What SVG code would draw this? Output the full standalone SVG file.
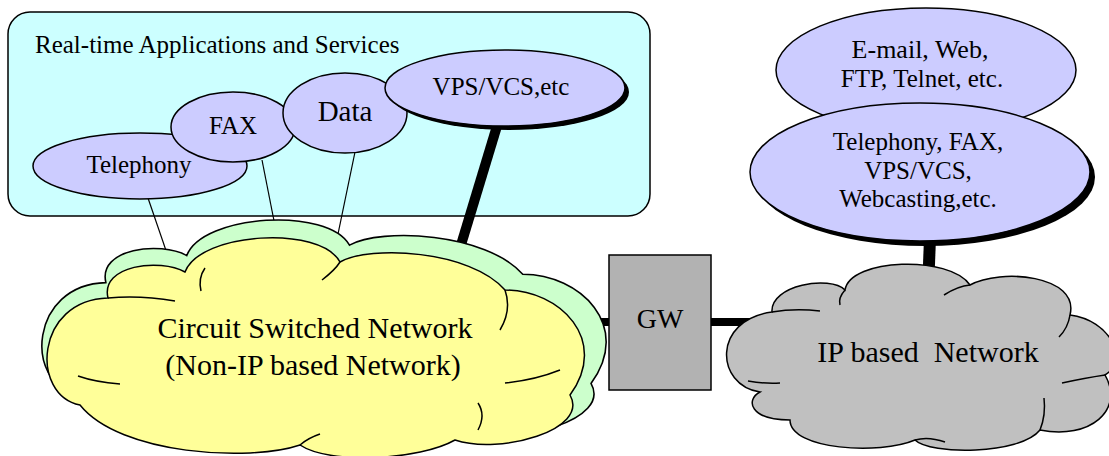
<svg xmlns="http://www.w3.org/2000/svg" width="1109" height="456" viewBox="0 0 1109 456">
  <style>
    .lbl { font-family: "Liberation Serif", "Times New Roman", serif; fill: #000; text-anchor: middle; }
    .svc { fill: #ccccff; stroke: #000; stroke-width: 1.5; }
    .shadow { fill: #000; }
    .inner { fill: none; stroke: #000; stroke-width: 1.5; }
    .thin { stroke: #000; stroke-width: 1.2; fill: none; }
    .thick { stroke: #000; fill: none; }
  </style>
  <defs>
    <path id="cs-cloud" d="M 80,405 C 30,395 35,300 108,298 C 100,265 160,258 185,272 C 200,232 320,225 340,262 C 370,245 470,250 505,290 C 560,290 610,340 570,395 C 590,430 500,455 455,440 C 420,460 330,465 300,445 C 250,462 120,455 80,405 Z"/>
  </defs>

  <!-- application panel -->
  <g id="panel">
    <rect x="8" y="12" width="642" height="204" rx="22" ry="22" fill="#ccffff" stroke="#000" stroke-width="1.5"/>
    <text class="lbl" x="35" y="53" font-size="25" style="text-anchor:start">Real-time Applications and Services</text>
  </g>

  <!-- connectors -->
  <g id="connectors">
    <line class="thin" x1="148" y1="198" x2="172" y2="268"/>
    <line class="thin" x1="262" y1="160" x2="277" y2="236"/>
    <line class="thin" x1="355" y1="152" x2="338" y2="234"/>
    <line class="thick" x1="497" y1="126" x2="454" y2="268" stroke-width="10"/>
    <line class="thick" x1="560" y1="322" x2="610" y2="322" stroke-width="8"/>
    <line class="thick" x1="710" y1="322" x2="760" y2="322" stroke-width="8"/>
    <line class="thick" x1="930" y1="238" x2="928" y2="290" stroke-width="12"/>
  </g>

  <!-- application services -->
  <g id="telephony">
    <ellipse class="svc" cx="140" cy="166" rx="107" ry="33"/>
    <text class="lbl" x="139" y="173" font-size="25">Telephony</text>
  </g>
  <g id="fax">
    <ellipse class="svc" cx="233" cy="127" rx="62" ry="35"/>
    <text class="lbl" x="233" y="134" font-size="25">FAX</text>
  </g>
  <g id="data">
    <ellipse class="svc" cx="345" cy="113" rx="62" ry="40"/>
    <text class="lbl" x="345" y="121" font-size="29">Data</text>
  </g>
  <g id="vps">
    <ellipse class="shadow" cx="509" cy="92" rx="120" ry="38"/>
    <ellipse class="svc" cx="505" cy="88" rx="120" ry="38"/>
    <text class="lbl" x="501" y="95" font-size="25">VPS/VCS,etc</text>
  </g>

  <!-- circuit switched network -->
  <g id="circuit-network">
    <use href="#cs-cloud" transform="translate(318,345) scale(1.05,1.04) translate(-310,-358)" fill="#ccffcc" stroke="#000" stroke-width="1.5"/>
    <use href="#cs-cloud" fill="#ffff99" stroke="#000" stroke-width="1.5"/>
    <path class="inner" d="M 108,298 Q 140,295 175,301"/>
    <path class="inner" d="M 205,268 Q 198,278 201,291"/>
    <path class="inner" d="M 340,262 Q 335,270 322,280"/>
    <path class="inner" d="M 505,290 Q 512,310 500,330"/>
    <path class="inner" d="M 78,376 Q 95,382 120,384"/>
    <path class="inner" d="M 560,370 Q 535,380 505,383"/>
    <path class="inner" d="M 478,403 Q 486,415 478,430"/>
    <path class="inner" d="M 300,445 Q 308,438 320,434"/>
    <text class="lbl" x="315" y="338" font-size="30">Circuit Switched Network</text>
    <text class="lbl" x="313" y="375" font-size="30">(Non-IP based Network)</text>
  </g>

  <!-- gateway -->
  <g id="gateway">
    <rect x="609" y="255" width="102" height="135" fill="#b2b2b2" stroke="#000" stroke-width="1.5"/>
    <text class="lbl" x="660" y="328" font-size="28">GW</text>
  </g>

  <!-- IP network -->
  <g id="ip-network">
    <path d="M 760,392 C 715,385 712,320 772,312 C 770,285 830,275 845,290 C 850,258 950,255 970,285 C 1000,268 1080,275 1070,315 C 1110,320 1130,360 1105,375 C 1125,410 1090,440 1040,430 C 1020,455 930,455 915,440 C 880,455 790,450 790,420 C 750,420 745,400 760,392 Z" fill="#c0c0c0" stroke="#000" stroke-width="1.5"/>
    <path class="inner" d="M 772,312 Q 795,308 820,311"/>
    <path class="inner" d="M 845,290 Q 838,298 840,305"/>
    <path class="inner" d="M 970,285 Q 958,286 944,295"/>
    <path class="inner" d="M 1070,315 Q 1068,328 1059,337"/>
    <path class="inner" d="M 1105,375 Q 1085,378 1062,383"/>
    <path class="inner" d="M 748,381 Q 765,384 780,383"/>
    <path class="inner" d="M 1040,430 Q 1046,415 1044,398"/>
    <path class="inner" d="M 915,440 Q 928,436 945,442"/>
    <text class="lbl" x="928" y="362" font-size="30" xml:space="preserve">IP based  Network</text>
  </g>

  <!-- internet services -->
  <g id="internet-services">
    <ellipse class="svc" cx="926" cy="70" rx="150" ry="62"/>
    <text class="lbl" x="920" y="58" font-size="26">E-mail, Web,</text>
    <text class="lbl" x="922" y="87" font-size="25">FTP, Telnet, etc.</text>
  </g>
  <g id="ip-telephony">
    <ellipse class="shadow" cx="925" cy="177" rx="170" ry="69"/>
    <ellipse class="svc" cx="920" cy="172" rx="170" ry="69"/>
    <text class="lbl" x="918" y="150" font-size="25">Telephony, FAX,</text>
    <text class="lbl" x="918" y="179" font-size="25">VPS/VCS,</text>
    <text class="lbl" x="918" y="207" font-size="25">Webcasting,etc.</text>
  </g>
</svg>
